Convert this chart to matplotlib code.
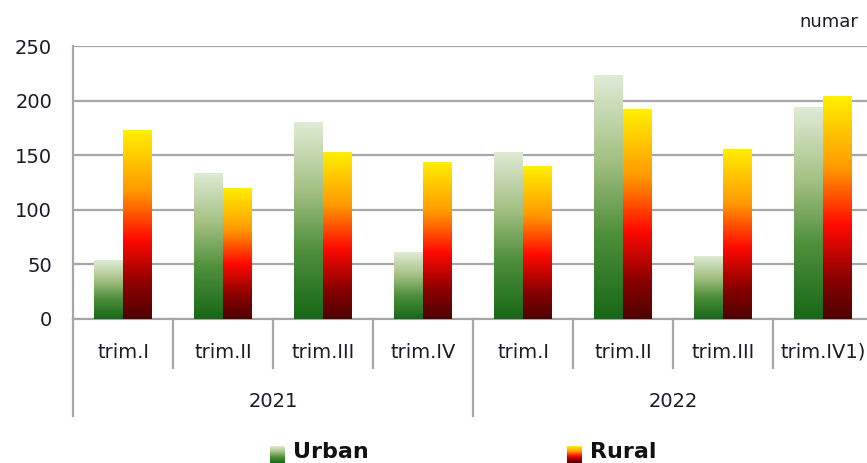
import numpy as np
import matplotlib.pyplot as plt
from matplotlib.colors import LinearSegmentedColormap
from matplotlib.transforms import blended_transform_factory

quarters = ["trim.I", "trim.II", "trim.III", "trim.IV",
            "trim.I", "trim.II", "trim.III", "trim.IV1)"]
years = ["2021", "2022"]
urban = [54, 134, 180, 61, 153, 223, 58, 194]
rural = [173, 120, 153, 144, 140, 192, 156, 204]

urban_cmap = LinearSegmentedColormap.from_list(
    "urban", [(0.0, "#176817"), (0.35, "#4f8f3c"), (0.65, "#a3c082"), (1.0, "#e0ebd6")])
rural_cmap = LinearSegmentedColormap.from_list(
    "rural", [(0.0, "#500000"), (0.18, "#8a0000"), (0.42, "#ff0a00"),
              (0.68, "#ff9a00"), (1.0, "#fff000")])

W, H = 867, 463
fig = plt.figure(figsize=(W / 100, H / 100), dpi=100)
ax = fig.add_axes([73 / W, 1 - 319 / H, 800 / W, 273 / H])

grad = np.linspace(0, 1, 256).reshape(-1, 1)
x = np.arange(len(quarters))
bw = 0.29

def gradient_bars(xs, vals, cmap):
    bars = ax.bar(xs, vals, width=bw, facecolor="none", edgecolor="none", zorder=3)
    for b in bars:
        x0, y0 = b.get_x(), b.get_y()
        im = ax.imshow(grad, cmap=cmap, origin="lower", aspect="auto", zorder=3,
                       extent=[x0, x0 + b.get_width(), y0, y0 + b.get_height()])
        im.set_clip_path(b)
    return bars

gradient_bars(x - bw / 2, urban, urban_cmap)
gradient_bars(x + bw / 2, rural, rural_cmap)

ax.set_xlim(-0.5, len(quarters) - 0.5)
ax.set_ylim(0, 250)
ax.set_yticks(range(0, 251, 50))
ax.tick_params(axis="y", length=0, pad=15, labelsize=14, labelcolor="#1a1a2a")
ax.set_xticks([])
ax.grid(axis="y", color="#a6a6a6", lw=1.6, zorder=0)
for s in ["top", "right"]:
    ax.spines[s].set_visible(False)
for s in ["left", "bottom"]:
    ax.spines[s].set_color("#a6a6a6")
    ax.spines[s].set_linewidth(1.6)

# two-level category axis
tr = blended_transform_factory(ax.transData, ax.transAxes)
for i, q in enumerate(quarters):
    ax.text(i, -0.121, q, transform=tr, ha="center", va="center",
            fontsize=14, color="#1a1a2a")
for k in range(1, len(quarters) + 1):
    xb = k - 0.5
    if k % 4 == 0:
        continue
    ax.plot([xb, xb], [0, -0.179], transform=tr, color="#a6a6a6", lw=1.6, clip_on=False)
for j, yr in enumerate(years):
    ax.text(4 * j + 1.5, -0.304, yr, transform=tr, ha="center", va="center",
            fontsize=14, color="#1a1a2a")
    ax.plot([4 * j - 0.5] * 2, [0, -0.355], transform=tr, color="#a6a6a6", lw=1.6, clip_on=False)
ax.plot([7.5] * 2, [0, -0.355], transform=tr, color="#a6a6a6", lw=1.6, clip_on=False)

fig.text(858 / W, 1 - 22 / H, "numar", ha="right", va="center", fontsize=13, color="#1a1a2a")

# legend
for x0, cmap, label in [(270, urban_cmap, "Urban"), (567, rural_cmap, "Rural")]:
    lax = fig.add_axes([x0 / W, 0, 15 / W, 17 / H])
    lax.imshow(grad, cmap=cmap, origin="lower", aspect="auto")
    lax.axis("off")
    fig.text((x0 + 23) / W, 1 - 452 / H, label, ha="left", va="center",
             fontsize=16, fontweight="bold", color="#111111")

fig.savefig("out.png", dpi=100)
